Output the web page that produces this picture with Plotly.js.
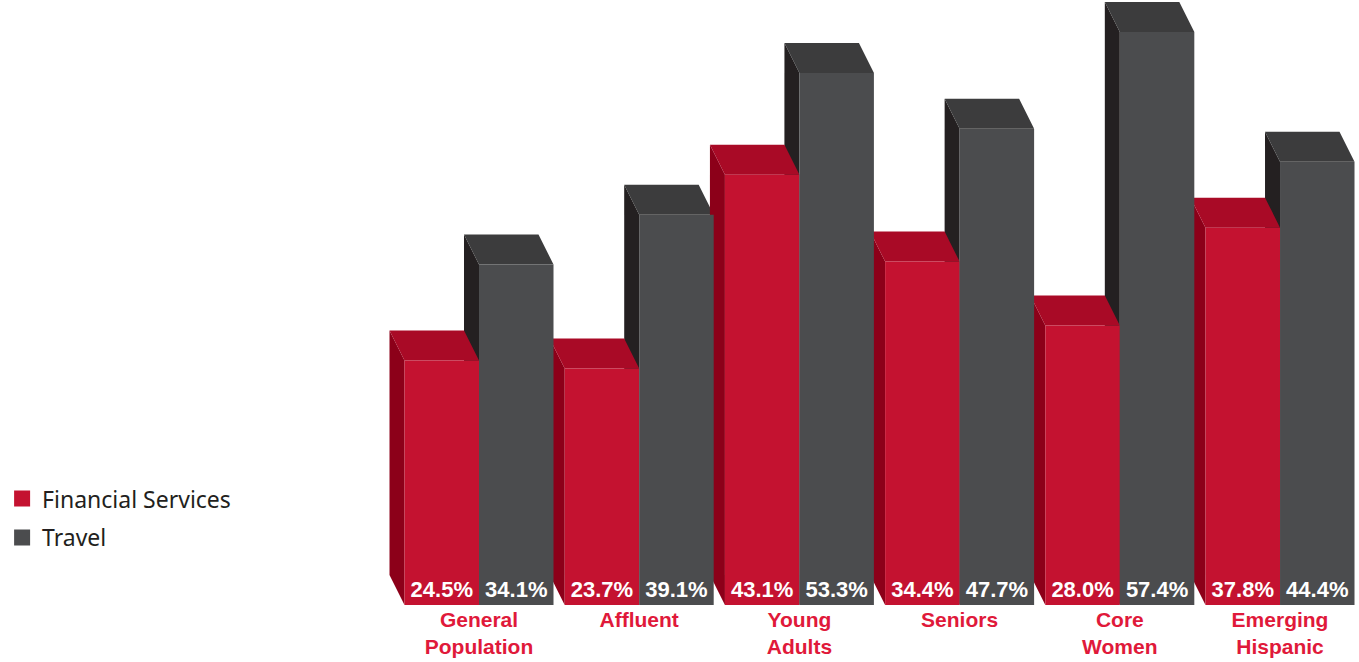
<!DOCTYPE html>
<html><head><meta charset="utf-8">
<script src="https://cdn.plot.ly/plotly-3.0.1.min.js"></script>
<style>html,body{margin:0;padding:0;background:#fff;}#chart{width:1359px;height:662px;}</style>
</head><body><div id="chart"></div>
<script>
// ---- data ----
const categories = ['General<br>Population', 'Affluent', 'Young<br>Adults', 'Seniors', 'Core<br>Women', 'Emerging<br>Hispanic'];
const financialServices = [24.5, 23.7, 43.1, 34.4, 28.0, 37.8];
const travel = [34.1, 39.1, 53.3, 47.7, 57.4, 44.4];
const seriesNames = ['Financial Services', 'Travel'];

// ---- style / layout ----
const W = 1359, H = 662;
const M = {l: 380, r: 0, t: 2, b: 57};
const xRange = [-0.618, 5.493];
const yRange = [0, 60.4];
const bargap = 0.07;
const depthPx = {x: 15, y: 30};
const colors = {
  fs: {front: '#C41230', top: '#A90A26', side: '#8C0019'},
  tr: {front: '#4B4C4E', top: '#3C3C3D', side: '#242021'}
};
const labelRed = '#E0193A';
const boldFont = '"Liberation Sans", Arial, sans-serif';

const pxPerX = (W - M.l - M.r) / (xRange[1] - xRange[0]);
const pxPerY = (H - M.t - M.b) / (yRange[1] - yRange[0]);
const dx = -depthPx.x / pxPerX, dy = depthPx.y / pxPerY;
const barW = (1 - bargap) / 2;
const idx = categories.map((_, i) => i);

function faces(center, v, c) {
  const L = center - barW / 2, R = center + barW / 2;
  const base = {type: 'path', xref: 'x', yref: 'y', layer: 'below', line: {width: 0, color: 'rgba(0,0,0,0)'}};
  return [
    Object.assign({}, base, {fillcolor: c.side,
      path: `M${L},0L${L},${v}L${L + dx},${v + dy}L${L + dx},${dy}Z`}),
    Object.assign({}, base, {fillcolor: c.top,
      path: `M${L},${v}L${R},${v}L${R + dx},${v + dy}L${L + dx},${v + dy}Z`})
  ];
}

const shapes = [];
idx.forEach(i => {
  shapes.push(...faces(i + barW / 2, travel[i], colors.tr));
  shapes.push(...faces(i - barW / 2, financialServices[i], colors.fs));
});

function barTrace(vals, name, col) {
  return {
    type: 'bar', x: idx, y: vals, name: name, showlegend: false,
    marker: {color: col, line: {width: 0}},
    text: vals.map(v => v.toFixed(1) + '%'),
    textposition: 'inside', insidetextanchor: 'start', textangle: 0,
    constraintext: 'none',
    insidetextfont: {family: boldFont, size: 22, color: '#ffffff', weight: 'bold'},
    hoverinfo: 'x+y'
  };
}
function legendTrace(name, col) {
  return {
    type: 'scatter', mode: 'markers', x: [null], y: [null], name: name,
    legendgroup: name, showlegend: true,
    marker: {symbol: 'square', size: 20, color: col}
  };
}

const data = [
  barTrace(financialServices, seriesNames[0], colors.fs.front),
  barTrace(travel, seriesNames[1], colors.tr.front),
  legendTrace(seriesNames[0], colors.fs.front),
  legendTrace(seriesNames[1], colors.tr.front)
];

const layout = {
  width: W, height: H, margin: M,
  paper_bgcolor: '#ffffff', plot_bgcolor: '#ffffff',
  barmode: 'group', bargap: bargap, bargroupgap: 0,
  showlegend: true,
  legend: {
    x: -0.386, xanchor: 'left', y: 0.212, yanchor: 'top',
    font: {family: '"Noto Sans", "Liberation Sans", sans-serif', size: 23, color: '#231F20'},
    tracegroupgap: 6, bgcolor: 'rgba(0,0,0,0)', itemsizing: 'trace'
  },
  xaxis: {
    range: xRange, tickvals: idx, ticktext: categories,
    showgrid: false, zeroline: false, showline: false, ticks: '',
    tickfont: {family: boldFont, size: 21, color: labelRed, weight: 'bold'}
  },
  yaxis: {range: yRange, visible: false, showgrid: false, zeroline: false},
  shapes: shapes
};

Plotly.newPlot('chart', data, layout, {displayModeBar: false, staticPlot: true});
</script>
</body></html>
